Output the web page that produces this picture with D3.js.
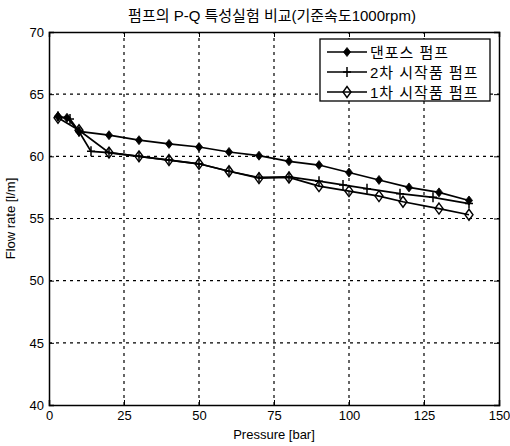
<!DOCTYPE html>
<html>
<head>
<meta charset="utf-8">
<script src="https://cdn.jsdelivr.net/npm/d3@7"></script>
<style>
  body { margin: 0; background: #fff; }
  text { font-family: "Liberation Sans", Arial, "Noto Sans CJK KR", sans-serif; fill: #000; }
  .kr { font-family: "Liberation Sans", "Noto Sans CJK KR", sans-serif; }
</style>
</head>
<body>
<div class="graph"></div>
<script>
// series data
const seriesNames = ["댄포스 펌프", "2차 시작품 펌프", "1차 시작품 펌프"];

const danfossX = [3, 6, 10, 20, 30, 40, 50, 60, 70, 80, 90, 100, 110, 120, 130, 140];
const danfossY = [63.2, 63.1, 62.0, 61.7, 61.3, 61.0, 60.75, 60.35, 60.05, 59.6, 59.3, 58.7, 58.1, 57.5, 57.1, 56.45];

const proto2X = [3, 7, 10, 14, 20, 30, 40, 50, 60, 70, 80, 90, 98, 106, 117, 128, 140];
const proto2Y = [63.2, 63.0, 62.0, 60.4, 60.3, 60.0, 59.7, 59.4, 58.8, 58.3, 58.35, 58.0, 57.7, 57.4, 57.0, 56.7, 56.2];

const proto1X = [3, 10, 20, 30, 40, 50, 60, 70, 80, 90, 100, 110, 118, 130, 140];
const proto1Y = [63.1, 62.1, 60.3, 60.0, 59.7, 59.4, 58.8, 58.25, 58.3, 57.6, 57.2, 56.8, 56.35, 55.8, 55.3];

const xTicks = [0, 25, 50, 75, 100, 125, 150];
const yTicks = [40, 45, 50, 55, 60, 65, 70];

const width = 510, height = 446;
const margin = {left: 49, right: 11, top: 32, bottom: 41};

const svg = d3.select(".graph").append("svg")
    .attr("width", width)
    .attr("height", height);

const x = d3.scaleLinear().domain([0, 150]).range([margin.left, width - margin.right]);
const y = d3.scaleLinear().domain([40, 70]).range([height - margin.bottom, margin.top]);

// dashed grid
svg.append("g").selectAll("line")
    .data(xTicks.slice(1, -1))
    .enter().append("line")
    .attr("x1", d => x(d)).attr("x2", d => x(d))
    .attr("y1", y(40)).attr("y2", y(70))
    .attr("stroke", "#000").attr("stroke-width", 1.2)
    .attr("stroke-dasharray", "3,4");

svg.append("g").selectAll("line")
    .data(yTicks.slice(1, -1))
    .enter().append("line")
    .attr("x1", x(0)).attr("x2", x(150))
    .attr("y1", d => y(d)).attr("y2", d => y(d))
    .attr("stroke", "#000").attr("stroke-width", 1.2)
    .attr("stroke-dasharray", "3,4");

// axes, ticks pointing inward
svg.append("g")
    .attr("transform", "translate(0," + y(40) + ")")
    .call(d3.axisBottom(x).tickValues(xTicks).tickSize(-5).tickPadding(6));
svg.append("g")
    .attr("transform", "translate(" + x(0) + ",0)")
    .call(d3.axisLeft(y).tickValues(yTicks).tickSize(-5).tickPadding(5));
svg.append("g")
    .attr("transform", "translate(0," + y(70) + ")")
    .call(d3.axisTop(x).tickValues(xTicks).tickSize(-5).tickFormat(""));
svg.append("g")
    .attr("transform", "translate(" + x(150) + ",0)")
    .call(d3.axisRight(y).tickValues(yTicks).tickSize(-5).tickFormat(""));

svg.selectAll(".domain").attr("stroke", "#000").attr("stroke-width", 1.5);
svg.selectAll(".tick line").attr("stroke", "#000");
svg.selectAll(".tick text").attr("font-size", 13).style("font-family", "Liberation Sans, Arial, sans-serif");

// axis titles and heading
svg.append("text")
    .attr("x", x(75)).attr("y", 439)
    .attr("text-anchor", "middle").attr("font-size", 13)
    .text("Pressure [bar]");

svg.append("text")
    .attr("transform", "translate(15," + y(55) + ") rotate(-90)")
    .attr("text-anchor", "middle").attr("font-size", 13)
    .text("Flow rate [l/m]");

svg.append("text")
    .attr("class", "kr")
    .attr("x", 272).attr("y", 21)
    .attr("text-anchor", "middle").attr("font-size", 15)
    .text("펌프의 P-Q 특성실험 비교(기준속도1000rpm)");

// markers
function drawMarker(g, type, cx, cy) {
    if (type === "filled") {
        g.append("path")
            .attr("d", "M" + cx + "," + (cy - 4.5) + "L" + (cx + 3.5) + "," + cy +
                       "L" + cx + "," + (cy + 4.5) + "L" + (cx - 3.5) + "," + cy + "Z")
            .attr("fill", "#000").attr("stroke", "#000").attr("stroke-width", 0.8);
    } else if (type === "plus") {
        g.append("path")
            .attr("d", "M" + (cx - 4) + "," + cy + "H" + (cx + 4) + "M" + cx + "," + (cy - 5) + "V" + (cy + 5))
            .attr("stroke", "#000").attr("stroke-width", 1.5).attr("fill", "none");
    } else {
        g.append("path")
            .attr("d", "M" + cx + "," + (cy - 5.5) + "L" + (cx + 4) + "," + cy +
                       "L" + cx + "," + (cy + 5.5) + "L" + (cx - 4) + "," + cy + "Z")
            .attr("fill", "none").attr("stroke", "#000").attr("stroke-width", 1.4);
    }
}

const series = [
    {xs: danfossX, ys: danfossY, marker: "filled"},
    {xs: proto2X, ys: proto2Y, marker: "plus"},
    {xs: proto1X, ys: proto1Y, marker: "open"}
];

const line = d3.line().x(d => x(d[0])).y(d => y(d[1]));

series.forEach(s => {
    const pts = s.xs.map((v, i) => [v, s.ys[i]]);
    const g = svg.append("g");
    g.append("path")
        .attr("d", line(pts))
        .attr("fill", "none").attr("stroke", "#000").attr("stroke-width", 1.7);
    pts.forEach(p => drawMarker(g, s.marker, x(p[0]), y(p[1])));
});

// legend
const legend = svg.append("g");
legend.append("rect")
    .attr("x", 320).attr("y", 39).attr("width", 170).attr("height", 62)
    .attr("fill", "#fff").attr("stroke", "#000").attr("stroke-width", 1.3);

seriesNames.forEach((name, i) => {
    const ly = 52 + i * 20;
    legend.append("line")
        .attr("x1", 327).attr("x2", 367).attr("y1", ly).attr("y2", ly)
        .attr("stroke", "#000").attr("stroke-width", 1.7);
    drawMarker(legend, series[i].marker, 347, ly);
    legend.append("text")
        .attr("class", "kr")
        .attr("x", 370).attr("y", ly + 5.5)
        .attr("font-size", 15)
        .attr("letter-spacing", 1)
        .text(name);
});
</script>
</body>
</html>
